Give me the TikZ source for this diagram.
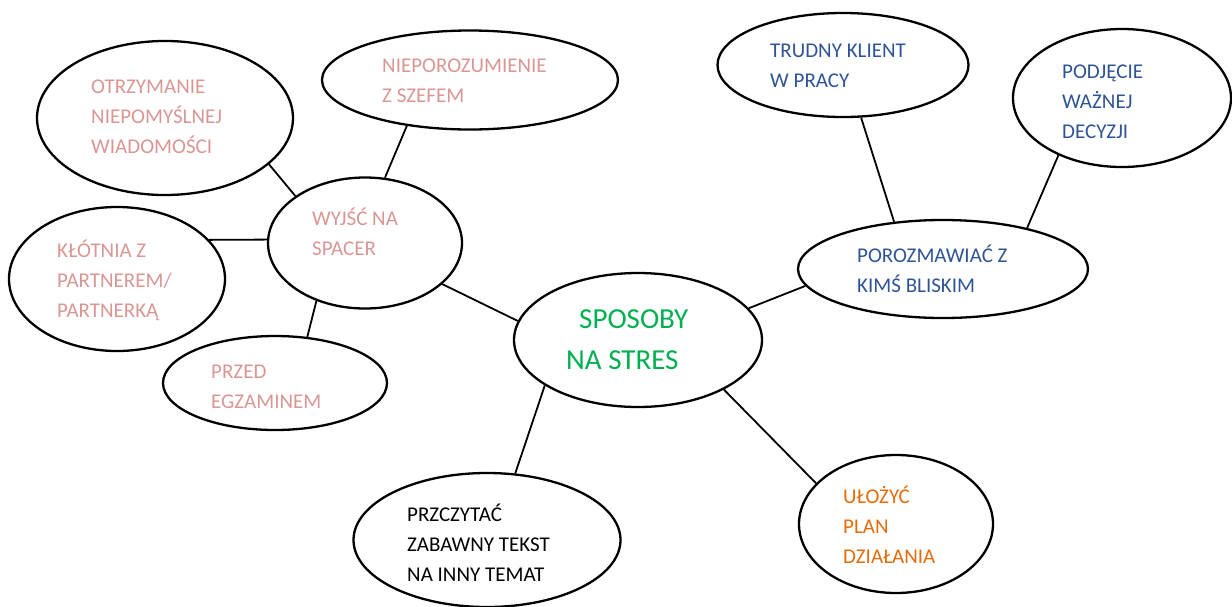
\documentclass[tikz,border=0pt]{standalone}
\usepackage{fontspec}
\setmainfont{Carlito}
\usetikzlibrary{shapes.geometric}
\definecolor{pinktxt}{RGB}{218,150,148}
\definecolor{bluetxt}{RGB}{47,84,150}
\definecolor{greentxt}{RGB}{0,176,80}
\definecolor{orangetxt}{RGB}{228,108,10}
\begin{document}
\begin{tikzpicture}[x=1pt,y=-1pt,
  bubble/.style 2 args={draw, ellipse, line width=2.3pt, inner sep=0pt, minimum width=#1pt, minimum height=#2pt},
  txt/.style={anchor=base west, inner sep=0pt, align=left, font=\fontsize{21}{29.7}\selectfont},
  bigtxt/.style={anchor=base west, inner sep=0pt, text=greentxt, font=\fontsize{29}{39}\selectfont},
  conn/.style={line width=1.8pt}]
\useasboundingbox (0,0) rectangle (1232,606);
% ellipses
\node[bubble={256}{154}] (otrz) at (165,118) {};
\node[bubble={296}{99}] (niep) at (470,80) {};
\node[bubble={194}{131}] (wyjs) at (365,243) {};
\node[bubble={216}{144}] (klot) at (117,279) {};
\node[bubble={224}{94}] (przed) at (275,383) {};
\node[bubble={248}{134}] (spos) at (638,340) {};
\node[bubble={267}{134}] (przcz) at (487,540) {};
\node[bubble={194}{138}] (uloz) at (896,524) {};
\node[bubble={290}{98}] (poroz) at (943,269) {};
\node[bubble={251}{104}] (trud) at (843,65) {};
\node[bubble={218}{138}] (podj) at (1122,98) {};
% texts (anchor = baseline of the last line)
\node[txt, text=pinktxt] (t-otrz) at (91,153) {OTRZYMANIE\\NIEPOMYŚLNEJ\\WIADOMOŚCI};
\node[txt, text=pinktxt] (t-niep) at (382,102) {NIEPOROZUMIENIE\\Z SZEFEM};
\node[txt, text=pinktxt] (t-wyjs) at (312,255) {WYJŚĆ NA\\SPACER};
\node[txt, text=pinktxt] (t-klot) at (57,317) {KŁÓTNIA Z\\PARTNEREM/\\PARTNERKĄ};
\node[txt, text=pinktxt] (t-przed) at (211,408) {PRZED\\EGZAMINEM};
\node[bigtxt] (t-spos1) at (579,328) {SPOSOBY};
\node[bigtxt] (t-spos2) at (566,369) {NA STRES};
\node[txt, text=black] (t-przcz) at (407,581) {PRZCZYTAĆ\\ZABAWNY TEKST\\NA INNY TEMAT};
\node[txt, text=orangetxt] (t-uloz) at (843,563) {UŁOŻYĆ\\PLAN\\DZIAŁANIA};
\node[txt, text=bluetxt] (t-poroz) at (857,292) {POROZMAWIAĆ Z\\KIMŚ BLISKIM};
\node[txt, text=bluetxt] (t-trud) at (770,87) {TRUDNY KLIENT\\W PRACY};
\node[txt, text=bluetxt] (t-podj) at (1062,138) {PODJĘCIE\\WAŻNEJ\\DECYZJI};
% connectors
\draw[conn] (otrz.-24.5) -- (wyjs.146);
\draw[conn] (niep.216.6) -- (wyjs.73);
\draw[conn] (klot.23) -- (wyjs.178);
\draw[conn] (przed.55) -- (wyjs.230.5);
\draw[conn] (wyjs.-28) -- (spos.171);
\draw[conn] (spos.206) -- (przcz.67);
\draw[conn] (spos.-30) -- (uloz.153.4);
\draw[conn] (spos.16) -- (poroz.187);
\draw[conn] (poroz.136.6) -- (trud.289);
\draw[conn] (poroz.26.3) -- (podj.222.7);
\end{tikzpicture}
\end{document}
